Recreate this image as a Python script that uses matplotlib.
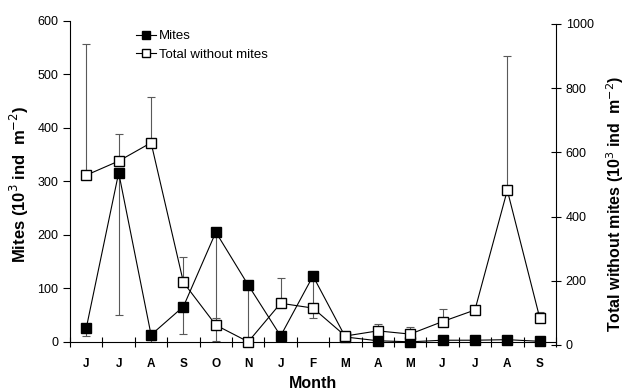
import numpy as np
import matplotlib.pyplot as plt

plt.rcParams['font.family'] = ['Liberation Sans', 'DejaVu Sans']

# Dados
meses = ['J', 'J', 'A', 'S', 'O', 'N', 'J', 'F', 'M', 'A', 'M', 'J', 'J', 'A', 'S']
acaros = [26, 316, 13, 66, 205, 106, 11, 123, 9, 2, 0, 3, 3, 4, 1]
acaros_err = [15, 266, 13, 51, 203, 106, 0, 78, 0, 0, 0, 0, 0, 0, 0]     # barra para baixo
total = [529, 573, 630, 195, 62, 10, 130, 115, 28, 44, 34, 73, 109, 482, 85]
total_err = [408, 85, 144, 78, 23, 0, 78, 0, 0, 21, 23, 38, 0, 419, 19]  # barra para cima

x = np.arange(len(meses))

fig = plt.figure(figsize=(6.26, 3.92), dpi=100)
ax = fig.add_axes([0.112, 0.128, 0.776, 0.819])
# eixo direito um pouco mais baixo, como no original
ax2 = fig.add_axes([0.112, 0.1199, 0.776, 0.819], sharex=ax, facecolor='none')
ax2.yaxis.tick_right()
ax2.yaxis.set_label_position('right')

# Acaros (eixo esquerdo)
ax.errorbar(x, acaros, yerr=[acaros_err, np.zeros(len(x))], fmt='none',
            ecolor='0.35', elinewidth=0.8, capsize=3, capthick=0.8)
l1, = ax.plot(x, acaros, '-s', color='black', lw=0.8, markersize=7,
              markerfacecolor='black', markeredgecolor='black', clip_on=False, zorder=3)

# Total sem acaros (eixo direito)
ax2.errorbar(x, total, yerr=[np.zeros(len(x)), total_err], fmt='none',
             ecolor='0.35', elinewidth=0.8, capsize=3, capthick=0.8)
l2, = ax2.plot(x, total, '-s', color='black', lw=0.8, markersize=7,
               markerfacecolor='white', markeredgecolor='black', clip_on=False, zorder=3)

ax.set_xlim(-0.5, len(x) - 0.5)
ax.set_ylim(0, 600)
ax2.set_ylim(0, 1000)
ax.set_yticks(range(0, 601, 100))
ax2.set_yticks(range(0, 1001, 200))

ax.set_xticks(x)
ax.set_xticklabels(meses, fontsize=8.5, fontweight='bold')
ax.set_xticks(np.arange(-0.5, len(x)), minor=True)
ax.tick_params(axis='x', which='major', length=0, pad=12)
ax.tick_params(axis='x', which='minor', direction='inout', length=7, width=0.8)
ax.tick_params(axis='y', direction='out', length=5, width=0.8, labelsize=9)
ax2.tick_params(axis='y', direction='inout', length=7, width=0.8, labelsize=9)
ax2.tick_params(axis='x', which='both', bottom=False, labelbottom=False)

for s in ['top', 'right']:
    ax.spines[s].set_visible(False)
for s in ['top', 'left', 'bottom']:
    ax2.spines[s].set_visible(False)
for a in (ax, ax2):
    for s in a.spines.values():
        s.set_linewidth(0.8)

ax.set_ylabel('Mites (10$^3$ ind  m$^{-2}$)', fontsize=12, fontweight='bold')
ax2.set_ylabel('Total without mites (10$^3$ ind  m$^{-2}$)', fontsize=11.5, fontweight='bold')
ax.set_xlabel('Month', fontsize=11.5, fontweight='bold')
ax.yaxis.set_label_coords(-0.08, 0.49)
ax2.yaxis.set_label_coords(1.100, 0.44)
ax.xaxis.set_label_coords(0.5, -0.105)

ax2.legend([l1, l2], ['Mites', 'Total without mites'], loc='upper left',
           bbox_to_anchor=(0.12, 1.005), frameon=False, fontsize=9.5,
           handlelength=1.5, handletextpad=0.2, borderaxespad=0.2, labelspacing=0.45,
           markerscale=0.85)

plt.savefig('out.png', dpi=100)
